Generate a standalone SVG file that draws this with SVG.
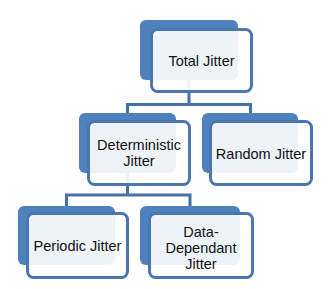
<svg xmlns="http://www.w3.org/2000/svg" width="334" height="289" viewBox="0 0 334 289">
<style>
.back{fill:#4f81bd}
.front{fill:#ffffff;fill-opacity:0.9;stroke:#4a77b0;stroke-width:3}
.conn{fill:none;stroke:#4471a8;stroke-width:3}
text{font-family:"Liberation Sans",Arial,sans-serif;font-size:14.5px;fill:#111;text-anchor:middle}
</style>
<rect width="334" height="289" fill="#ffffff"/>
<g id="connectors">
<path class="conn" d="M189,80 V104.5 M127.5,104.5 H250.5 M127.5,103 V113 M250.5,103 V113"/>
<path class="conn" d="M127.5,172 V195 M66.5,195 H190 M66.5,193.5 V206 M190,193.5 V206"/>
</g>
<g id="total">
<rect class="back" x="140" y="20" width="98" height="60" rx="6"/>
<rect class="front" x="151.5" y="29.5" width="100" height="62" rx="6"/>
<text x="201.5" y="65.5">Total Jitter</text>
</g>
<g id="deterministic">
<rect class="back" x="79" y="113" width="97" height="60" rx="6"/>
<rect class="front" x="88.5" y="121.5" width="101" height="63" rx="6"/>
<text x="139" y="150">Deterministic</text>
<text x="139" y="165.5">Jitter</text>
</g>
<g id="random">
<rect class="back" x="202" y="113" width="96" height="60" rx="6"/>
<rect class="front" x="210.5" y="121.5" width="101" height="63" rx="6"/>
<text x="261" y="158.5">Random Jitter</text>
</g>
<g id="periodic">
<rect class="back" x="18" y="206" width="97" height="59" rx="6"/>
<rect class="front" x="27.5" y="213.5" width="100" height="64" rx="6"/>
<text x="77.5" y="250.5">Periodic Jitter</text>
</g>
<g id="datadependant">
<rect class="back" x="140" y="206" width="100" height="59" rx="6"/>
<rect class="front" x="149.5" y="213.5" width="103" height="64" rx="6"/>
<text x="201" y="237">Data-</text>
<text x="201" y="253">Dependant</text>
<text x="201" y="268.5">Jitter</text>
</g>
</svg>
